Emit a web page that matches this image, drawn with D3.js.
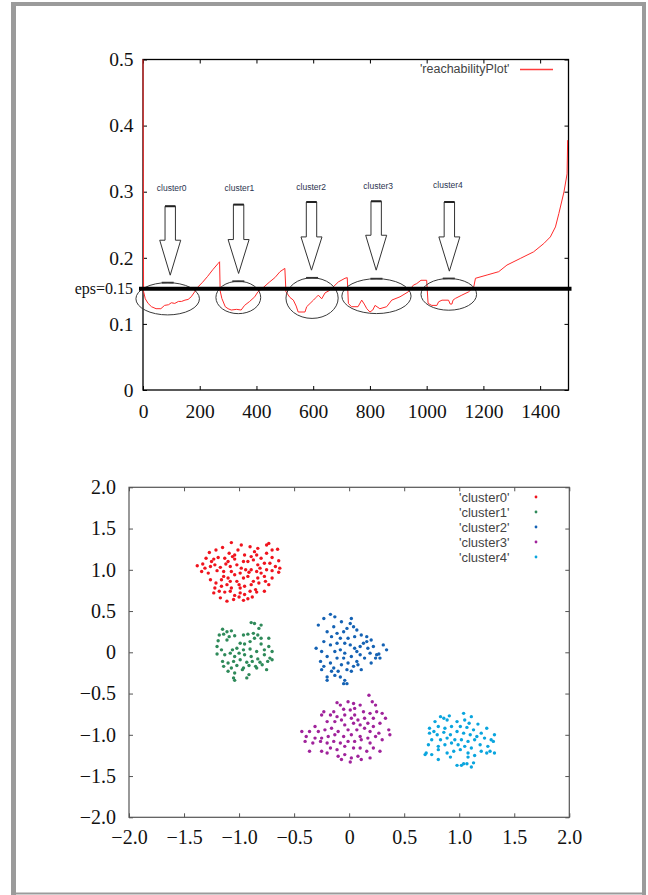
<!DOCTYPE html>
<html lang="en">
<head>
<meta charset="UTF-8">
<title>OPTICS reachability plot and clusters</title>
<script src="https://d3js.org/d3.v7.min.js"></script>
<style>
  body { margin: 0; background: #fff; }
  svg { display: block; }
</style>
</head>
<body>
<svg id="chart" width="648" height="895"></svg>
<script>
// ---- reachability plot (point order -> reachability distance)
const reachOrder = [0, 2, 8, 18, 30, 46, 63, 76, 90, 100, 112, 125, 136, 148, 159, 170, 182, 194, 210, 228, 246, 264, 270,
  272, 278, 290, 300, 311, 330, 346, 358, 376, 394, 405, 424, 445, 465, 483, 500,
  504, 518, 530, 540, 547, 571, 577, 589, 601, 610, 618, 630, 642, 655, 665, 689, 712, 720,
  724, 735, 758, 771, 780, 789, 800, 810, 818, 835, 859, 877, 906, 935, 953, 965, 980, 1000,
  1005, 1018, 1036, 1042, 1054, 1077, 1083, 1089, 1093, 1101, 1124, 1148, 1166, 1172, 1213, 1254,
  1283, 1330, 1377, 1413, 1436, 1454, 1466, 1484, 1495, 1497];
const reachDist = [0.52, 0.149, 0.138, 0.131, 0.126, 0.123, 0.123, 0.128, 0.129, 0.132, 0.131, 0.134, 0.134, 0.136, 0.137, 0.141, 0.1485, 0.156, 0.163, 0.172, 0.182, 0.191, 0.194,
  0.15, 0.1385, 0.126, 0.123, 0.121, 0.122, 0.121, 0.128, 0.134, 0.141, 0.1485, 0.155, 0.163, 0.17, 0.179, 0.184,
  0.1485, 0.14, 0.136, 0.127, 0.118, 0.118, 0.126, 0.131, 0.136, 0.14, 0.1435, 0.138, 0.147, 0.15, 0.1536, 0.1636, 0.169, 0.17,
  0.131, 0.126, 0.126, 0.136, 0.13, 0.123, 0.118, 0.121, 0.128, 0.123, 0.126, 0.136, 0.141, 0.1485, 0.1586, 0.161, 0.166, 0.166,
  0.131, 0.128, 0.128, 0.1334, 0.1359, 0.1359, 0.13, 0.13, 0.136, 0.1385, 0.1435, 0.1485, 0.156, 0.169, 0.174, 0.179,
  0.189, 0.199, 0.209, 0.2216, 0.2316, 0.2467, 0.267, 0.2996, 0.327, 0.378];

const epsLabel = 'eps=0.15';
const epsLevel = 0.153;   // where the threshold line sits in the picture

const reachXTicks = [0, 200, 400, 600, 800, 1000, 1200, 1400];
const reachYTicks = [0, 0.1, 0.2, 0.3, 0.4, 0.5];

// annotations: one arrow + ellipse per cluster
const clusterNames = ['cluster0', 'cluster1', 'cluster2', 'cluster3', 'cluster4'];
const arrowOrder = [96, 337, 594, 822, 1080];
const arrowTop = [0.278, 0.2805, 0.2844, 0.2855, 0.2844];
const arrowBase = [0.2266, 0.2276, 0.2316, 0.2341, 0.2316];
const arrowTip = [0.1737, 0.1763, 0.1813, 0.1813, 0.1798];
const labelOrder = [101, 340, 593, 829, 1075];
const labelDist = [0.305, 0.306, 0.307, 0.308, 0.3097];
const ellOrder = [87, 336, 596, 823, 1078];
const ellDist = [0.138, 0.140, 0.139, 0.142, 0.1447];
const ellHalfOrder = [112, 79, 92, 122, 98];
const ellHalfDist = [0.0244, 0.0245, 0.0307, 0.0264, 0.024];

// ---- scatter of the five clusters
const cluster0 = [[-1.07,1.33],[-0.73,1.32],[-0.75,1.30],[-0.65,1.25],[-1.15,1.27],[-1.21,1.24],[-0.98,1.30],[-0.90,1.28],[-0.83,1.26],[-1.01,1.24],
  [-0.86,1.22],[-1.09,1.20],[-1.04,1.18],[-1.27,1.21],[-1.30,1.14],[-1.23,1.13],[-1.19,1.15],[-1.13,1.14],[-1.04,1.13],[-0.95,1.18],
  [-0.89,1.16],[-0.80,1.14],[-0.75,1.20],[-0.70,1.15],[-0.64,1.11],[-1.38,1.05],[-1.33,1.07],[-1.31,1.02],[-1.26,1.04],[-1.22,1.06],
  [-1.17,1.03],[-1.12,1.07],[-1.08,1.04],[-1.02,1.06],[-0.98,1.02],[-0.92,1.10],[-0.87,1.12],[-0.83,1.06],[-0.77,1.08],[-0.72,1.08],
  [-0.67,1.04],[-0.63,1.02],[-1.34,0.98],[-1.28,0.96],[-1.20,0.99],[-1.14,0.98],[-1.07,0.98],[-1.04,0.94],[-0.99,0.96],[-0.94,1.00],
  [-0.89,1.00],[-0.84,0.98],[-0.80,0.96],[-0.75,1.00],[-0.70,0.99],[-0.64,0.97],[-1.26,0.88],[-1.21,0.84],[-1.16,0.88],[-1.10,0.90],
  [-1.02,0.86],[-0.96,0.90],[-0.92,0.92],[-0.87,0.86],[-0.83,0.90],[-0.77,0.92],[-0.70,0.90],[-1.22,0.78],[-1.16,0.80],[-1.11,0.82],
  [-1.07,0.78],[-1.00,0.82],[-0.95,0.80],[-0.89,0.82],[-0.82,0.84],[-0.73,0.82],[-1.23,0.72],[-1.18,0.74],[-1.13,0.73],[-1.08,0.74],
  [-1.04,0.69],[-0.99,0.72],[-0.95,0.70],[-0.90,0.74],[-0.85,0.76],[-0.77,0.74],[-1.17,0.66],[-1.11,0.62],[-1.05,0.64],[-1.00,0.67],
  [-0.96,0.63],[-0.92,0.65],[-0.88,0.67],[-1.25,1.10],[-1.10,1.10],[-1.06,1.16],[-0.96,1.10],[-0.84,1.18],[-0.70,1.24],[-0.81,1.02],
  [-1.14,0.92],[-0.91,0.97],[-1.08,0.86],[-0.76,0.86],[-0.99,0.78],[-0.84,0.73]];
const cluster1 = [[-0.89,0.36],[-0.86,0.35],[-0.80,0.33],[-0.82,0.29],[-1.15,0.28],[-1.11,0.25],[-1.07,0.26],[-1.14,0.22],[-1.09,0.19],[-1.04,0.20],
  [-0.96,0.21],[-0.92,0.22],[-0.87,0.23],[-0.83,0.21],[-0.73,0.17],[-1.19,0.14],[-1.11,0.15],[-0.99,0.11],[-0.95,0.10],[-0.90,0.13],
  [-0.86,0.17],[-0.80,0.10],[-0.73,0.07],[-1.20,0.07],[-1.16,0.03],[-1.06,0.03],[-1.02,0.05],[-0.96,0.03],[-0.90,0.04],[-0.84,0.01],
  [-0.77,0.03],[-0.70,0.01],[-1.20,-0.02],[-1.13,-0.03],[-1.08,-0.01],[-1.04,-0.05],[-1.00,-0.01],[-0.95,-0.03],[-0.89,-0.05],[-0.83,-0.08],
  [-0.77,-0.03],[-0.72,-0.07],[-1.15,-0.11],[-1.10,-0.13],[-1.05,-0.11],[-0.99,-0.09],[-0.93,-0.12],[-0.88,-0.11],[-0.81,-0.12],[-0.74,-0.11],
  [-0.70,-0.09],[-1.14,-0.17],[-1.07,-0.19],[-1.02,-0.16],[-0.96,-0.19],[-0.91,-0.16],[-0.85,-0.17],[-0.79,-0.15],[-1.10,-0.23],[-1.04,-0.25],
  [-0.97,-0.21],[-0.84,-0.19],[-0.75,-0.21],[-1.05,-0.31],[-0.93,-0.31],[-1.04,-0.34],[-0.91,-0.27],[-1.18,0.21],[-0.80,0.17]];
const cluster2 = [[-0.17,0.46],[-0.13,0.43],[-0.23,0.41],[-0.28,0.33],[-0.07,0.37],[0.02,0.41],[0.01,0.35],[0.04,0.31],[0.07,0.27],[-0.02,0.29],
  [-0.05,0.25],[-0.14,0.31],[-0.20,0.25],[-0.11,0.23],[-0.16,0.19],[-0.08,0.17],[-0.01,0.17],[-0.23,0.13],[0.11,0.21],[0.16,0.19],
  [0.20,0.15],[0.13,0.11],[0.10,0.07],[0.05,0.05],[0.01,0.09],[-0.04,0.11],[-0.11,0.11],[-0.17,0.09],[-0.30,0.05],[-0.25,0.01],
  [-0.13,0.01],[-0.08,0.03],[-0.04,-0.01],[0.07,0.01],[0.17,0.05],[0.22,0.07],[0.31,0.09],[0.34,0.03],[0.25,-0.03],[0.19,-0.01],
  [0.14,-0.07],[0.10,-0.03],[0.02,-0.05],[-0.05,-0.07],[-0.11,-0.07],[-0.20,-0.05],[-0.26,-0.11],[-0.17,-0.13],[-0.07,-0.15],[-0.01,-0.13],
  [0.07,-0.11],[0.11,-0.21],[0.20,-0.13],[0.24,-0.07],[0.27,-0.02],[-0.23,-0.17],[-0.14,-0.19],[-0.10,-0.23],[-0.02,-0.21],[0.04,-0.17],
  [0.08,-0.15],[-0.20,-0.30],[-0.13,-0.28],[-0.08,-0.30],[-0.04,-0.34],[-0.05,-0.38],[-0.02,-0.38],[-0.20,-0.34],[0.02,-0.23],[-0.16,-0.23],
  [-0.25,-0.21],[0.28,-0.07],[0.05,0.19],[0.16,0.13]];
const cluster3 = [[0.18,-0.52],[0.21,-0.60],[0.24,-0.64],[-0.11,-0.61],[-0.08,-0.64],[-0.01,-0.60],[0.04,-0.62],[0.10,-0.64],[0.05,-0.68],[0.01,-0.70],
  [-0.05,-0.69],[-0.14,-0.72],[-0.23,-0.72],[-0.25,-0.76],[-0.17,-0.76],[-0.11,-0.78],[-0.04,-0.76],[0.05,-0.76],[0.13,-0.72],[0.19,-0.74],
  [0.25,-0.72],[0.30,-0.74],[0.33,-0.80],[0.22,-0.80],[0.14,-0.80],[0.08,-0.82],[0.02,-0.80],[-0.07,-0.82],[-0.13,-0.84],[-0.20,-0.84],
  [-0.04,-0.88],[0.04,-0.86],[0.10,-0.88],[0.17,-0.86],[0.22,-0.90],[0.28,-0.86],[-0.31,-0.90],[-0.28,-0.96],[-0.22,-0.94],[-0.16,-0.92],
  [-0.10,-0.96],[-0.01,-0.94],[0.07,-0.94],[0.14,-0.92],[0.19,-0.96],[0.27,-0.98],[0.36,-0.94],[-0.43,-0.96],[-0.39,-1.02],[-0.36,-0.96],
  [-0.31,-1.04],[-0.25,-1.04],[-0.19,-1.02],[-0.13,-1.00],[-0.05,-1.02],[0.02,-1.00],[0.10,-1.02],[0.17,-1.04],[0.24,-1.02],[0.37,-1.00],
  [-0.40,-1.08],[-0.33,-1.10],[-0.26,-1.08],[-0.20,-1.10],[-0.14,-1.08],[-0.08,-1.10],[-0.01,-1.08],[0.05,-1.08],[0.11,-1.06],[0.19,-1.10],
  [0.30,-1.06],[-0.36,-1.20],[-0.25,-1.20],[-0.17,-1.16],[-0.11,-1.18],[-0.04,-1.14],[0.04,-1.16],[0.10,-1.16],[0.16,-1.20],[0.22,-1.16],
  [0.28,-1.20],[-0.10,-1.26],[-0.04,-1.24],[0.02,-1.28],[0.08,-1.26],[0.11,-1.30],[0.19,-1.28],[-0.20,-1.22],[0.01,-1.33],[-0.07,-1.30]];
const cluster4 = [[1.04,-0.74],[0.83,-0.78],[0.86,-0.80],[0.91,-0.77],[0.89,-0.82],[0.78,-0.84],[0.98,-0.84],[1.11,-0.78],[1.05,-0.82],[1.09,-0.86],
  [1.17,-0.87],[0.73,-0.92],[0.77,-0.96],[0.81,-0.90],[0.87,-0.92],[0.93,-0.90],[1.01,-0.90],[1.07,-0.91],[1.13,-0.94],[1.25,-0.92],
  [0.73,-0.98],[0.80,-1.00],[0.86,-0.97],[0.92,-1.00],[0.98,-0.96],[1.04,-0.98],[1.10,-1.00],[1.16,-1.02],[1.20,-0.98],[1.32,-1.00],
  [0.75,-1.06],[0.83,-1.06],[0.89,-1.04],[0.96,-1.06],[1.02,-1.06],[1.08,-1.08],[1.14,-1.06],[1.23,-1.04],[1.29,-1.06],[0.72,-1.12],
  [0.81,-1.14],[0.87,-1.12],[0.93,-1.10],[0.99,-1.12],[1.05,-1.14],[1.11,-1.16],[1.19,-1.12],[1.26,-1.14],[1.31,-1.08],[0.70,-1.22],
  [0.75,-1.24],[0.81,-1.18],[0.89,-1.22],[0.95,-1.20],[1.01,-1.18],[1.08,-1.22],[1.14,-1.25],[1.20,-1.20],[1.28,-1.20],[1.32,-1.22],
  [0.81,-1.30],[0.92,-1.27],[1.08,-1.27],[0.98,-1.37],[1.02,-1.37],[1.04,-1.35],[1.07,-1.35],[1.11,-1.39],[1.13,-1.34],[1.25,-1.22],
  [0.69,-1.24]];
const clusterColors = ['#f0141e', '#2f8a5a', '#1462b4', '#a0239b', '#0aa5de'];
const scatterTicks = [-2, -1.5, -1, -0.5, 0, 0.5, 1, 1.5, 2];

const serif = '"Liberation Serif", "Times New Roman", Times, serif';
const sans = '"Liberation Sans", Arial, Helvetica, sans-serif';

const svg = d3.select('#chart');
svg.append('rect').attr('width', 648).attr('height', 895).attr('fill', '#fff');

// grey page frame
const frame = svg.append('g').attr('fill', '#9b9b9b');
frame.append('rect').attr('x', 11).attr('y', 2).attr('width', 635).attr('height', 4);
frame.append('rect').attr('x', 11).attr('y', 2).attr('width', 5).attr('height', 893);
frame.append('rect').attr('x', 642).attr('y', 2).attr('width', 4).attr('height', 893);
frame.append('rect').attr('x', 11).attr('y', 892.5).attr('width', 635).attr('height', 2);

const fmt = d => d === 0 ? '0' : d3.format('.1f')(d);

function styleAxis(g, color, size) {
  g.attr('font-family', serif).attr('font-size', size);
  g.select('.domain').remove();
  g.selectAll('line').attr('stroke', color);
  g.selectAll('text').attr('fill', '#111');
}

// ================= top: reachability plot =================
const x1 = d3.scaleLinear().domain([0, 1500]).range([143, 568.5]);
const y1 = d3.scaleLinear().domain([0, 0.5]).range([390, 59.5]);

svg.append('clipPath').attr('id', 'clipTop').append('rect')
  .attr('x', x1(0) - 1).attr('y', y1(0.5)).attr('width', x1(1500) - x1(0) + 1).attr('height', y1(0) - y1(0.5));

const gTop = svg.append('g');
gTop.append('g').attr('transform', `translate(0,${y1(0)})`)
  .call(d3.axisBottom(x1).tickValues(reachXTicks).tickFormat(d3.format('d')).tickSize(-4).tickPadding(14.5))
  .call(g => styleAxis(g, '#000', 19.5));
gTop.append('g').attr('transform', `translate(0,${y1(0.5)})`)
  .call(d3.axisTop(x1).tickValues(reachXTicks).tickFormat('').tickSize(-4))
  .call(g => styleAxis(g, '#000', 19.5));
gTop.append('g').attr('transform', `translate(${x1(0)},0)`)
  .call(d3.axisLeft(y1).tickValues(reachYTicks).tickFormat(fmt).tickSize(-4).tickPadding(9.5))
  .call(g => styleAxis(g, '#000', 19.5));
gTop.append('g').attr('transform', `translate(${x1(1500)},0)`)
  .call(d3.axisRight(y1).tickValues(reachYTicks).tickFormat('').tickSize(-4))
  .call(g => styleAxis(g, '#000', 19.5));

gTop.append('rect')
  .attr('x', x1(0)).attr('y', y1(0.5))
  .attr('width', x1(1500) - x1(0)).attr('height', y1(0) - y1(0.5))
  .attr('fill', 'none').attr('stroke', '#000').attr('stroke-width', 1.3);

const reach = reachOrder.map((o, i) => ({ o, r: reachDist[i] }));
const line = d3.line().x(d => x1(d.o)).y(d => y1(d.r));
gTop.append('path')
  .attr('d', line(reach))
  .attr('clip-path', 'url(#clipTop)')
  .attr('fill', 'none').attr('stroke', '#ff2a2a').attr('stroke-width', 1);

// ellipses round the valleys
clusterNames.forEach((n, i) => {
  const cx = x1(ellOrder[i]), cy = y1(ellDist[i]);
  const rx = x1(ellOrder[i] + ellHalfOrder[i]) - cx;
  const ry = y1(ellDist[i] - ellHalfDist[i]) - cy;
  gTop.append('ellipse').attr('cx', cx).attr('cy', cy).attr('rx', rx).attr('ry', ry)
    .attr('fill', 'none').attr('stroke', '#3a3a3a').attr('stroke-width', 1);
  gTop.append('line').attr('x1', cx - 6).attr('x2', cx + 6).attr('y1', cy - ry).attr('y2', cy - ry)
    .attr('stroke', '#333').attr('stroke-width', 1.8);
});

// block arrows + cluster names
clusterNames.forEach((n, i) => {
  const cx = x1(arrowOrder[i]);
  const t = y1(arrowTop[i]), b = y1(arrowBase[i]), tip = y1(arrowTip[i]);
  const sw = 5.2, hw = 10.5;
  const p = d3.path();
  p.moveTo(cx - sw, t); p.lineTo(cx + sw, t); p.lineTo(cx + sw, b); p.lineTo(cx + hw, b);
  p.lineTo(cx, tip); p.lineTo(cx - hw, b); p.lineTo(cx - sw, b); p.closePath();
  gTop.append('path').attr('d', p.toString())
    .attr('fill', '#fff').attr('stroke', '#333').attr('stroke-width', 1);
  gTop.append('line').attr('x1', cx - sw).attr('x2', cx + sw).attr('y1', t).attr('y2', t)
    .attr('stroke', '#222').attr('stroke-width', 2);
  gTop.append('text')
    .attr('x', x1(labelOrder[i])).attr('y', y1(labelDist[i]))
    .attr('text-anchor', 'middle').attr('dominant-baseline', 'central')
    .attr('font-family', sans).attr('font-size', 8.5).attr('fill', '#2b3450')
    .text(n);
});

// eps threshold
gTop.append('line')
  .attr('x1', x1(0) - 4).attr('x2', x1(1500) + 3)
  .attr('y1', y1(epsLevel)).attr('y2', y1(epsLevel))
  .attr('stroke', '#000').attr('stroke-width', 4);
gTop.append('text')
  .attr('x', x1(0) - 10).attr('y', y1(epsLevel)).attr('dy', '0.32em')
  .attr('text-anchor', 'end').attr('font-family', serif).attr('font-size', 16).attr('fill', '#111')
  .text(epsLabel);

// key
gTop.append('text')
  .attr('x', 509.5).attr('y', 69).attr('dominant-baseline', 'central')
  .attr('text-anchor', 'end').attr('font-family', sans).attr('font-size', 12.5).attr('fill', '#444')
  .text("'reachabilityPlot'");
gTop.append('line').attr('x1', 520).attr('x2', 553).attr('y1', 69.5).attr('y2', 69.5)
  .attr('stroke', '#ff3b3b').attr('stroke-width', 1.3);

// ================= bottom: cluster scatter =================
const x2 = d3.scaleLinear().domain([-2, 2]).range([129, 569.3]);
const y2 = d3.scaleLinear().domain([-2, 2]).range([817.3, 487.3]);
const gBot = svg.append('g');
const frameCol = '#555';

gBot.append('g').attr('transform', `translate(0,${y2(-2)})`)
  .call(d3.axisBottom(x2).tickValues(scatterTicks).tickFormat(fmt).tickSize(-4).tickPadding(12.5))
  .call(g => styleAxis(g, frameCol, 20));
gBot.append('g').attr('transform', `translate(0,${y2(2)})`)
  .call(d3.axisTop(x2).tickValues(scatterTicks).tickFormat('').tickSize(-4))
  .call(g => styleAxis(g, frameCol, 20));
gBot.append('g').attr('transform', `translate(${x2(-2)},0)`)
  .call(d3.axisLeft(y2).tickValues(scatterTicks).tickFormat(fmt).tickSize(-4).tickPadding(13))
  .call(g => styleAxis(g, frameCol, 20));
gBot.append('g').attr('transform', `translate(${x2(2)},0)`)
  .call(d3.axisRight(y2).tickValues(scatterTicks).tickFormat('').tickSize(-4))
  .call(g => styleAxis(g, frameCol, 20));

gBot.append('rect')
  .attr('x', x2(-2)).attr('y', y2(2))
  .attr('width', x2(2) - x2(-2)).attr('height', y2(-2) - y2(2))
  .attr('fill', 'none').attr('stroke', frameCol).attr('stroke-width', 1.2);

const clusters = [cluster0, cluster1, cluster2, cluster3, cluster4];
clusters.forEach((pts, i) => {
  gBot.append('g').attr('fill', clusterColors[i])
    .selectAll('circle').data(pts).join('circle')
    .attr('cx', d => x2(d[0])).attr('cy', d => y2(d[1])).attr('r', 1.7);
});

// key
clusterNames.forEach((n, i) => {
  const yy = 497 + i * 15;
  gBot.append('text')
    .attr('x', 459).attr('y', yy).attr('dominant-baseline', 'central')
    .attr('font-family', sans).attr('font-size', 13).attr('fill', '#444')
    .text(`'${n}'`);
  gBot.append('circle').attr('cx', 536).attr('cy', yy).attr('r', 1.4).attr('fill', clusterColors[i]);
});
</script>
</body>
</html>
